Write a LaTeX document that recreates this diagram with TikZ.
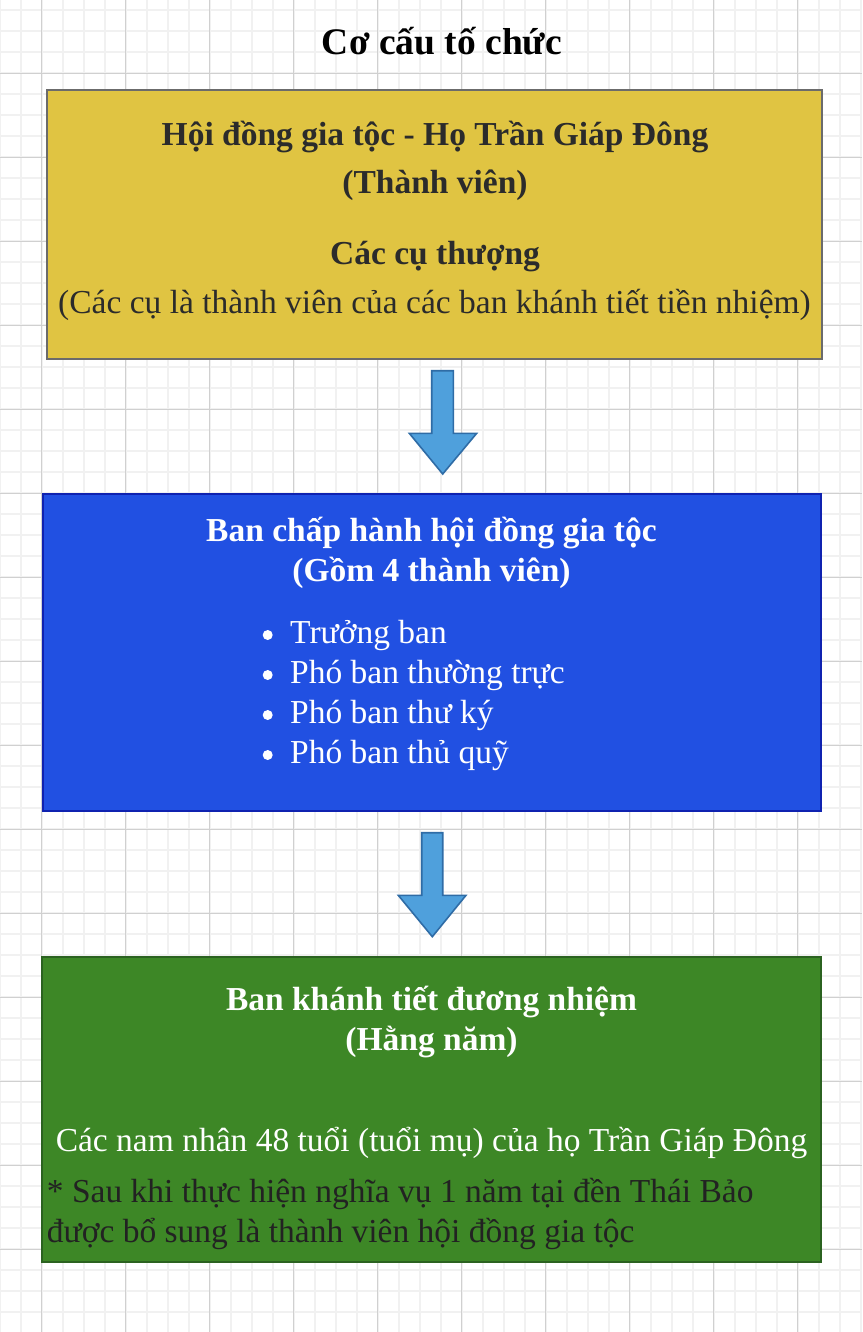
\documentclass[tikz,border=0pt]{standalone}
\usepackage{fontspec}
\setmainfont{Liberation Serif}
\definecolor{gridminor}{HTML}{F1F1F1}
\definecolor{gridmajor}{HTML}{D0D0D0}
\definecolor{yfill}{HTML}{E0C442}
\definecolor{ydraw}{HTML}{6B6B6B}
\definecolor{bfill}{HTML}{2150E2}
\definecolor{bdraw}{HTML}{0F22B0}
\definecolor{gfill}{HTML}{3D8726}
\definecolor{gdraw}{HTML}{2B6220}
\definecolor{afill}{HTML}{4FA0DC}
\definecolor{adraw}{HTML}{2F6CA6}
\definecolor{ytext}{HTML}{2B2B2B}
\definecolor{ntext}{HTML}{222222}
\tikzset{
  minorline/.style={gridminor, line width=2pt},
  majorline/.style={gridmajor, line width=1pt},
  box/.style={draw, line width=2pt, inner sep=0pt},
  txt/.style={inner sep=0pt, anchor=base, font=\fontsize{33.5pt}{40pt}\selectfont},
  btxt/.style={txt, font=\fontsize{33.5pt}{40pt}\selectfont\bfseries},
  ltxt/.style={txt, anchor=base west},
  dot/.style={circle, fill=white, inner sep=0pt, minimum size=10pt},
  blockarrow/.style={fill=afill, draw=adraw, line width=1.6pt, line join=miter}
}
\begin{document}
\begin{tikzpicture}[x=1pt, y=-1pt]
\useasboundingbox (0,0) rectangle (862,1332);
\fill[white] (0,0) rectangle (862,1332);
% grid
\foreach \i in {-2,...,40} {\draw[minorline] ({41.5+21*\i},0) -- ({41.5+21*\i},1332);}
\foreach \i in {-4,...,60} {\draw[minorline] (0,{73.3+21*\i}) -- (862,{73.3+21*\i});}
\foreach \i in {0,...,9} {\draw[majorline] ({41.5+84*\i},0) -- ({41.5+84*\i},1332);}
\foreach \i in {-1,...,15} {\draw[majorline] (0,{73.3+84*\i}) -- (862,{73.3+84*\i});}

% title
\node[txt, font=\fontsize{37.5pt}{45pt}\selectfont\bfseries] (title) at (442,55) {Cơ cấu tố chức};

% boxes
\node[box, fill=yfill, draw=ydraw, minimum width=774.7pt, minimum height=268.7pt] (ybox) at (434.65,224.35) {};
\node[box, fill=bfill, draw=bdraw, minimum width=778.6pt, minimum height=317pt] (bbox) at (432,652.8) {};
\node[box, fill=gfill, draw=gdraw, minimum width=779.3pt, minimum height=305pt] (gbox) at (431.65,1109.8) {};

% yellow texts
\node[btxt, text=ytext] (y1) at (435,146) {Hội đồng gia tộc - Họ Trần Giáp Đông};
\node[btxt, text=ytext] (y2) at (435,194) {(Thành viên)};
\node[btxt, text=ytext] (y3) at (435,265) {Các cụ thượng};
\node[txt, text=ytext] (y4) at (434.5,313) {(Các cụ là thành viên của các ban khánh tiết tiền nhiệm)};

% blue texts
\node[btxt, text=white] (b1) at (431.5,541.7) {Ban chấp hành hội đồng gia tộc};
\node[btxt, text=white] (b2) at (431.5,581.7) {(Gồm 4 thành viên)};
\node[dot] (d1) at (267.7,635) {};
\node[dot] (d2) at (267.7,675) {};
\node[dot] (d3) at (267.7,715) {};
\node[dot] (d4) at (267.7,755) {};
\node[ltxt, text=white] (l1) at (290,643.3) {Trưởng ban};
\node[ltxt, text=white] (l2) at (290,683.3) {Phó ban thường trực};
\node[ltxt, text=white] (l3) at (290,723.3) {Phó ban thư ký};
\node[ltxt, text=white] (l4) at (290,763.3) {Phó ban thủ quỹ};

% green texts
\node[btxt, text=white] (g1) at (431.5,1010.7) {Ban khánh tiết đương nhiệm};
\node[btxt, text=white] (g2) at (431.5,1050) {(Hằng năm)};
\node[txt, text=white] (g3) at (431.5,1151.7) {Các nam nhân 48 tuổi (tuổi mụ) của họ Trần Giáp Đông};
\node[ltxt, text=ntext] (g4) at (46.7,1202.3) {* Sau khi thực hiện nghĩa vụ 1 năm tại đền Thái Bảo};
\node[ltxt, text=ntext] (g5) at (46.7,1242.7) {được bổ sung là thành viên hội đồng gia tộc};

% block arrows
\draw[blockarrow] (431.7,370.7) -- (453.3,370.7) -- (453.3,433.3) -- (476.7,433.3) -- (442.7,474) -- (409.3,433.3) -- (431.7,433.3) -- cycle;
\draw[blockarrow] (421.7,832.7) -- (442.7,832.7) -- (442.7,895.3) -- (466,895.3) -- (432.3,936.7) -- (398.3,895.3) -- (421.7,895.3) -- cycle;
\end{tikzpicture}
\end{document}
